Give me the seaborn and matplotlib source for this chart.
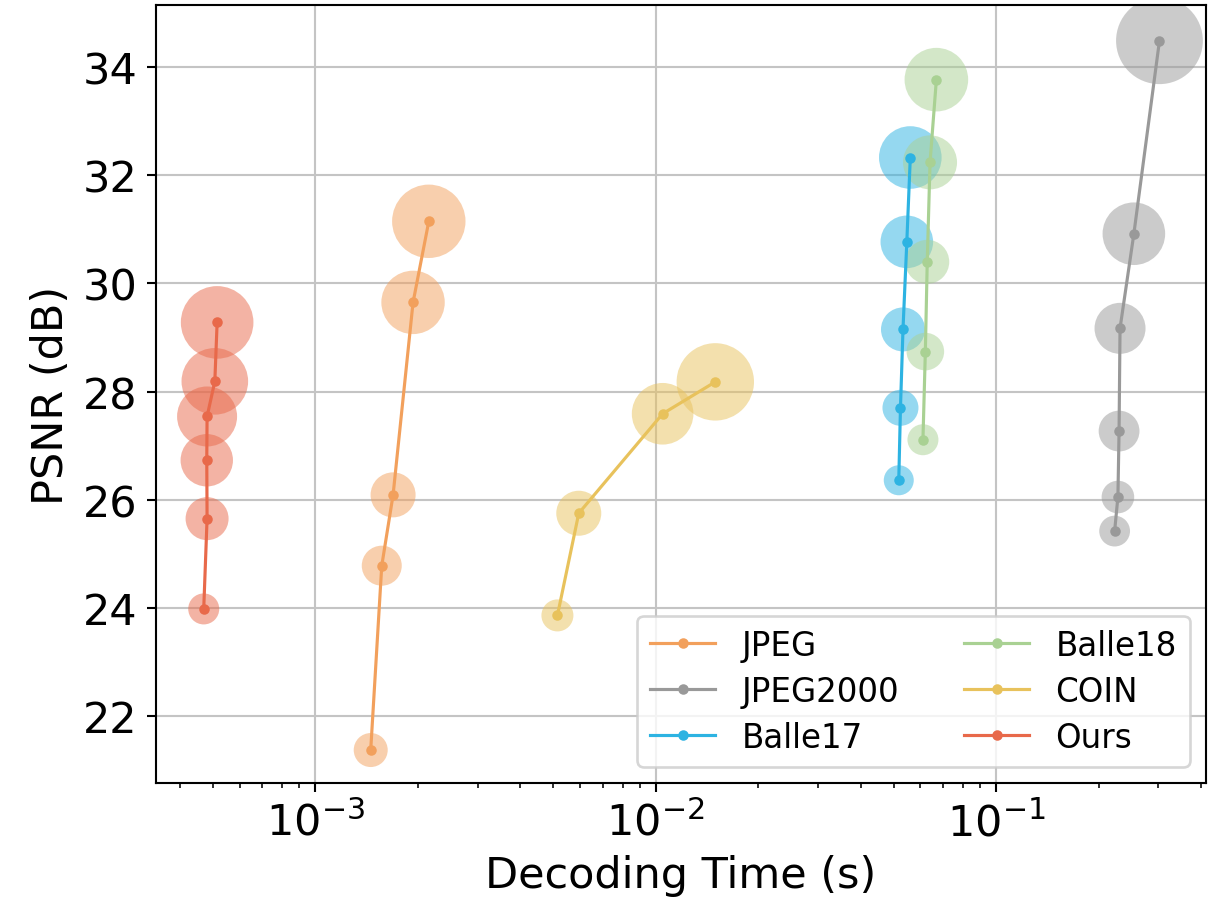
import numpy as np
import pandas as pd
import matplotlib
matplotlib.use("Agg")
import matplotlib.pyplot as plt
import seaborn as sns

# ---------------- data ----------------
methods = ["JPEG", "JPEG2000", "Balle17", "Balle18", "COIN", "Ours"]

jpeg_time = [1.457e-3, 1.570e-3, 1.695e-3, 1.940e-3, 2.158e-3]
jpeg_psnr = [21.37, 24.78, 26.09, 29.65, 31.15]
jpeg_rate = [17.0, 20.0, 22.5, 31.7, 36.7]

j2k_time = [0.2230, 0.2280, 0.2298, 0.2313, 0.254, 0.302]
j2k_psnr = [25.42, 26.05, 27.27, 29.17, 30.92, 34.49]
j2k_rate = [15.4, 16.3, 20.4, 25.5, 31.3, 43.4]

b17_time = [5.18e-2, 5.24e-2, 5.33e-2, 5.47e-2, 5.60e-2]
b17_psnr = [26.36, 27.70, 29.15, 30.77, 32.33]
b17_rate = [15.0, 18.0, 22.0, 26.3, 31.3]

b18_time = [6.10e-2, 6.20e-2, 6.28e-2, 6.40e-2, 6.68e-2]
b18_psnr = [27.11, 28.74, 30.40, 32.24, 33.77]
b18_rate = [15.5, 18.8, 22.0, 27.0, 31.8]

coin_time = [5.15e-3, 5.95e-3, 1.049e-2, 1.498e-2]
coin_psnr = [23.86, 25.75, 27.59, 28.18]
coin_rate = [16.0, 22.5, 30.8, 38.7]

ours_time = [4.71e-4, 4.818e-4, 4.808e-4, 4.818e-4, 5.077e-4, 5.157e-4]
ours_psnr = [23.98, 25.65, 26.73, 27.54, 28.19, 29.28]
ours_rate = [15.5, 21.5, 26.2, 30.0, 33.3, 36.3]

colors = ["#F2A05C", "#999999", "#2DB3E2", "#A9D193", "#E8C25C", "#E8694A"]

series = {
    "JPEG": (jpeg_time, jpeg_psnr, jpeg_rate),
    "JPEG2000": (j2k_time, j2k_psnr, j2k_rate),
    "Balle17": (b17_time, b17_psnr, b17_rate),
    "Balle18": (b18_time, b18_psnr, b18_rate),
    "COIN": (coin_time, coin_psnr, coin_rate),
    "Ours": (ours_time, ours_psnr, ours_rate),
}

# ---------------- figure ----------------
DPI = 189
fig = plt.figure(figsize=(1210 / DPI, 902 / DPI), dpi=DPI)
ax = fig.add_axes([0.1289, 0.1308, 0.9967 - 0.1289, 0.9933 - 0.1308])

px_per_pt = DPI / 72.0

for name, col in zip(methods, colors):
    t, p, r = series[name]
    df = pd.DataFrame({"time": t, "psnr": p, "rate": r})
    s = (2 * df["rate"].to_numpy() / px_per_pt) ** 2
    sns.scatterplot(data=df, x="time", y="psnr", ax=ax, color=col,
                    s=s, alpha=0.5, linewidth=0, legend=False)
    sns.lineplot(data=df, x="time", y="psnr", ax=ax, color=col,
                 sort=False, estimator=None, marker="o", markersize=4,
                 markeredgewidth=0, linewidth=1.2, label=name)

ax.set_xscale("log")
ax.set_xlim(3.41e-4, 0.4137)
ax.set_ylim(20.76, 35.15)
ax.set_yticks([22, 24, 26, 28, 30, 32, 34])
ax.grid(True, which="major", color="#c4c4c4", linewidth=0.8)
ax.set_axisbelow(True)

ax.tick_params(axis="both", which="major", labelsize=16.4)
ax.set_xlabel("Decoding Time (s)", fontsize=16.4)
ax.set_ylabel("PSNR (dB)", fontsize=16.4)

ax.legend(loc="lower right", ncol=2, fontsize=12.4, columnspacing=2.0,
          labelspacing=0.4)

fig.savefig("out.png", dpi=DPI)
